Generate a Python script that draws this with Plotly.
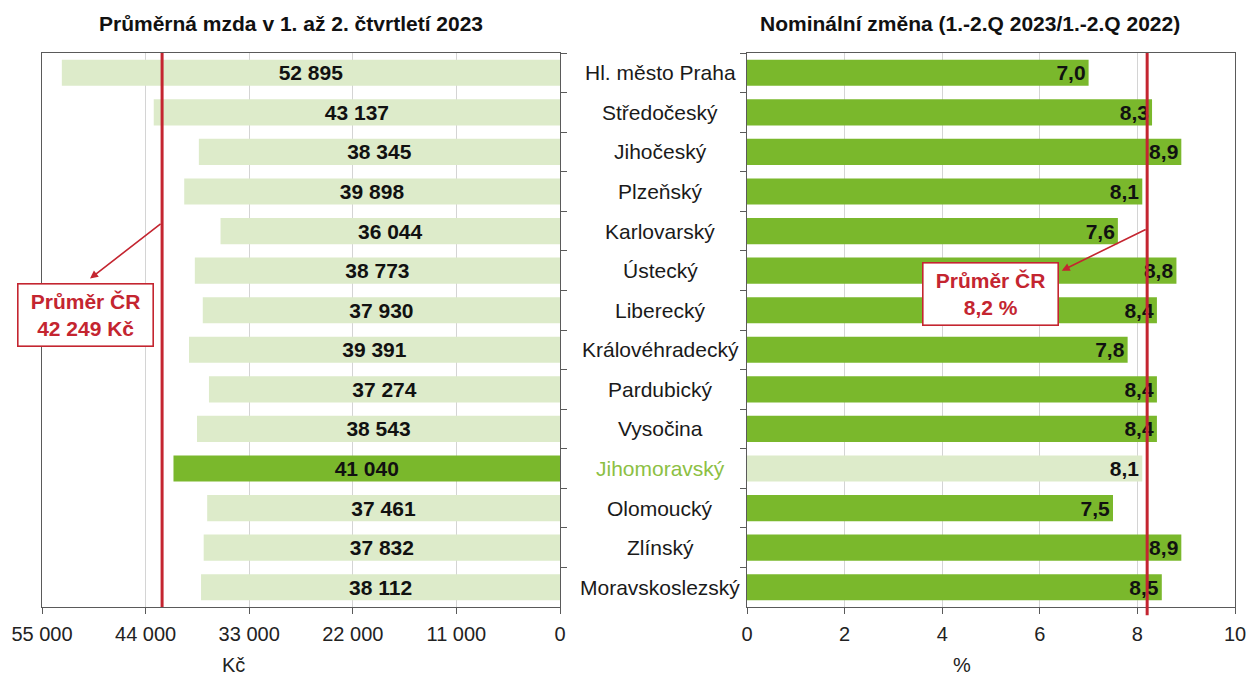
import plotly.graph_objects as go

regions = ["Hl. město Praha", "Středočeský", "Jihočeský", "Plzeňský", "Karlovarský",
           "Ústecký", "Liberecký", "Královéhradecký", "Pardubický", "Vysočina",
           "Jihomoravský", "Olomoucký", "Zlínský", "Moravskoslezský"]
wages = [52895, 43137, 38345, 39898, 36044, 38773, 37930, 39391, 37274, 38543,
         41040, 37461, 37832, 38112]
changes = [7.0, 8.3, 8.9, 8.1, 7.6, 8.8, 8.4, 7.8, 8.4, 8.4, 8.1, 7.5, 8.9, 8.5]
avg_wage = 42249
avg_change = 8.2
highlight = "Jihomoravský"
wage_ticks = [0, 11000, 22000, 33000, 44000, 55000]
change_ticks = [0, 2, 4, 6, 8, 10]

W, H = 1249, 677
DARK = "#7AB82C"
LIGHT = "#DDEBCA"
RED = "#C42530"
LINE = "#5a5a5a"
GRID = "#D4D4D4"
FONT = "Liberation Sans, Arial, sans-serif"

def px_x(p):
    return p / W

def px_y(p):
    return (H - p) / H

left_colors = [DARK if r == highlight else LIGHT for r in regions]
right_colors = [LIGHT if r == highlight else DARK for r in regions]

fig = go.Figure()
fig.add_trace(go.Bar(
    x=wages, y=regions, orientation="h", xaxis="x", yaxis="y",
    marker=dict(color=left_colors, line=dict(width=0)),
    texttemplate="%{x:,d}", textposition="inside", insidetextanchor="middle",
    textfont=dict(family=FONT, size=21, color="#111111", weight="bold"),
    constraintext="none", hoverinfo="x+y", showlegend=False))
fig.add_trace(go.Bar(
    x=changes, y=regions, orientation="h", xaxis="x2", yaxis="y2",
    marker=dict(color=right_colors, line=dict(width=0)),
    texttemplate="%{x:.1f}", textposition="inside", insidetextanchor="end",
    textfont=dict(family=FONT, size=21, color="#111111", weight="bold"),
    constraintext="none", hoverinfo="x+y", showlegend=False))

ydom = [px_y(607), px_y(53)]
common_y = dict(type="category", categoryorder="array", categoryarray=regions,
                autorange="reversed", domain=ydom, showticklabels=False,
                tickson="boundaries", ticks="outside", ticklen=6, tickwidth=1.3,
                tickcolor=LINE, showline=True, linecolor=LINE, linewidth=1.3,
                mirror=True, showgrid=False, zeroline=False, automargin=False)
common_x = dict(showline=True, linecolor=LINE, linewidth=1.3, mirror=True,
                ticks="outside", ticklen=6, tickwidth=1.3, tickcolor=LINE,
                showgrid=True, gridcolor=GRID, gridwidth=1.3, zeroline=False,
                tickfont=dict(family=FONT, size=20, color="#222222"),
                ticklabelstandoff=3, automargin=False)

fig.update_layout(
    width=W, height=H, margin=dict(l=0, r=0, t=0, b=0, autoexpand=False),
    paper_bgcolor="white", plot_bgcolor="white",
    separators=", ", bargap=0.34,
    font=dict(family=FONT, color="#222222"),
    xaxis=dict(domain=[px_x(42), px_x(560)], range=[55000, 0],
               tickvals=wage_ticks, tickformat=",d", anchor="y", **common_x),
    yaxis=dict(anchor="x", side="right", **common_y),
    xaxis2=dict(domain=[px_x(747), px_x(1235)], range=[0, 10],
                tickvals=change_ticks, anchor="y2", **common_x),
    yaxis2=dict(anchor="x2", side="left", **common_y),
)

# average lines
fig.add_shape(type="line", xref="x", yref="y domain", x0=avg_wage, x1=avg_wage,
              y0=0, y1=1, line=dict(color=RED, width=3), layer="above")
fig.add_shape(type="line", xref="x2", yref="y2 domain", x0=avg_change, x1=avg_change,
              y0=-0.015, y1=1, line=dict(color=RED, width=3), layer="above")

ann = []
# category labels
for r in regions:
    ann.append(dict(x=px_x(660), xref="paper", y=r, yref="y", text=r,
                    showarrow=False, xanchor="center", yanchor="middle",
                    font=dict(family=FONT, size=21,
                              color="#8CC043" if r == highlight else "#1a1a1a")))
# titles
ann.append(dict(x=px_x(291), y=px_y(23), xref="paper", yref="paper",
                xanchor="center", yanchor="middle",
                text="Průměrná mzda v 1. až 2. čtvrtletí 2023", showarrow=False,
                font=dict(family=FONT, size=21, color="#111111", weight="bold")))
ann.append(dict(x=px_x(970), y=px_y(23), xref="paper", yref="paper",
                xanchor="center", yanchor="middle",
                text="Nominální změna (1.-2.Q 2023/1.-2.Q 2022)", showarrow=False,
                font=dict(family=FONT, size=21, color="#111111", weight="bold")))
# axis titles
ann.append(dict(x=px_x(233), y=px_y(665), xref="paper", yref="paper", text="Kč",
                xanchor="center", yanchor="middle",
                showarrow=False, font=dict(family=FONT, size=20, color="#222222")))
ann.append(dict(x=px_x(962), y=px_y(665), xref="paper", yref="paper", text="%",
                xanchor="center", yanchor="middle",
                showarrow=False, font=dict(family=FONT, size=20, color="#222222")))

# arrows
ann.append(dict(x=49900, y=5.2, xref="x", yref="y", ax=avg_wage, ay=3.79,
                axref="x", ayref="y", text="", showarrow=True, arrowhead=2,
                arrowsize=1, arrowwidth=1.6, arrowcolor=RED, standoff=0, startstandoff=0))
ann.append(dict(x=6.45, y=5.0, xref="x2", yref="y2", ax=avg_change, ay=3.94,
                axref="x2", ayref="y2", text="", showarrow=True, arrowhead=2,
                arrowsize=1, arrowwidth=1.6, arrowcolor=RED, standoff=0, startstandoff=0))
# boxes
wage_txt = f"{avg_wage:,}".replace(",", " ")
chg_txt = f"{avg_change:.1f}".replace(".", ",")
ann.append(dict(x=50434, y=6.11, xref="x", yref="y",
                text=f"Průměr ČR<br>{wage_txt} Kč", showarrow=False,
                font=dict(family=FONT, size=21, color=RED, weight="bold"),
                bgcolor="white", bordercolor=RED, borderwidth=1.6, borderpad=2,
                width=130, height=57, align="center"))
ann.append(dict(x=4.98, y=5.58, xref="x2", yref="y2",
                text=f"Průměr ČR<br>{chg_txt} %", showarrow=False,
                font=dict(family=FONT, size=21, color=RED, weight="bold"),
                bgcolor="white", bordercolor=RED, borderwidth=1.6, borderpad=2,
                width=130, height=57, align="center"))

fig.update_layout(annotations=ann)
fig.write_html("out.html", config={"displayModeBar": False},
               post_script="document.body.style.margin='0';")
